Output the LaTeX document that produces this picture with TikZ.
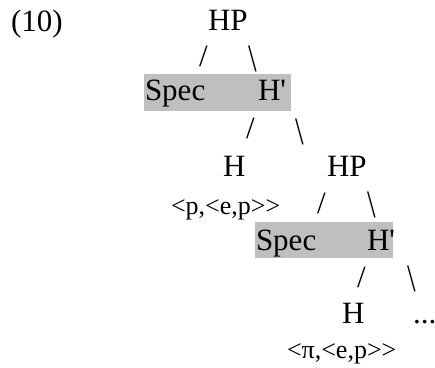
\documentclass[tikz,border=0pt]{standalone}
\usepackage{fontspec}
\setmainfont{Liberation Serif}[Ligatures=TeXOff]
\newcommand{\bksl}{\scalebox{1}[1.25]{\textbackslash}}
\begin{document}
\begin{tikzpicture}[x=1pt,y=-1pt,
  every node/.style={inner sep=0pt,outer sep=0pt,anchor=base west},
  big/.style={font=\fontsize{31}{31}\selectfont},
  small/.style={font=\fontsize{26}{26}\selectfont},
  shade/.style={fill=black!25,draw=none}]
\useasboundingbox (0,0) rectangle (435,367);
% gray highlight boxes
\fill[shade] (144,74) rectangle (291,111);
\fill[shade] (255,222) rectangle (393,258);
% level 0
\node[big] (ex) at (11,31) {(10)};
\node[big] (hp1) at (208,30) {HP};
\node[big] (s1l) at (199,66.5) {/};
\node[big] (s1r) at (248,71.5) {\bksl};
% level 1
\node[big] (spec1) at (145,100) {Spec};
\node[big] (hb1) at (258,100) {H'};
\node[big] (s2l) at (246,138) {/};
\node[big] (s2r) at (295,144.5) {\bksl};
% level 2
\node[big] (h2) at (223,176) {H};
\node[big] (hp2) at (327,176) {HP};
\node[small] (t1) at (171,214) {<p,<e,p>\kern0pt>};
\node[big] (s3l) at (317,213) {/};
\node[big] (s3r) at (367,217.5) {\bksl};
% level 3
\node[big] (spec2) at (256,250) {Spec};
\node[big] (hb2) at (367,250) {H'};
\node[big] (s4l) at (357,287) {/};
\node[big] (s4r) at (407,291.5) {\bksl};
% level 4
\node[big] (h3) at (342,323) {H};
\node[big] (dots) at (413,323) {...};
\node[small] (t2) at (287,358) {<π,<e,p>\kern0pt>};
\end{tikzpicture}
\end{document}
